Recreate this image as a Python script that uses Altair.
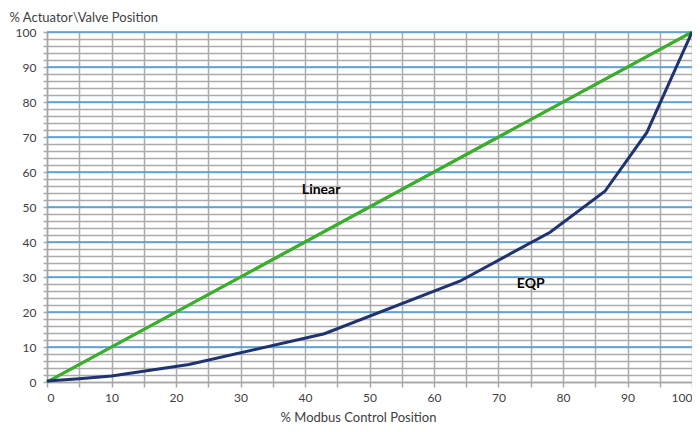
import altair as alt
import pandas as pd

# ---- data ----
eqp_x = [0, 5, 10, 22, 43, 64, 78, 86.5, 93, 100]
eqp_y = [0.3, 0.9, 1.7, 5.0, 13.8, 28.8, 42.8, 54.5, 71.3, 100]
lin_x = [0, 100]
lin_y = [0, 100]
x_ticks = list(range(0, 101, 5))
y_ticks = list(range(0, 101, 2))
major_y = list(range(10, 101, 10))
label_text = ["Linear", "EQP"]
label_x = [42.5, 75]
label_y = [55, 28]

eqp = pd.DataFrame({"x": eqp_x, "y": eqp_y})
lin = pd.DataFrame({"x": lin_x, "y": lin_y})
majors = pd.DataFrame({"y": major_y})
labels = pd.DataFrame({"t": label_text, "x": label_x, "y": label_y})

FONT = "Lato"
xs = alt.Scale(domain=[0, 100], nice=False, zero=False)
ys = alt.Scale(domain=[0, 100], nice=False, zero=False)

x_axis = alt.Axis(
    values=x_ticks, grid=True, gridColor="#ababab", gridWidth=1.5,
    tickColor="#ababab", tickSize=5, tickWidth=1.5,
    domainColor="#a6a6a6", domainWidth=1.5,
    labelExpr="datum.value % 10 == 0 ? datum.label : ''",
    labelFont=FONT, labelFontSize=12, labelColor="#404040", labelPadding=5,
    title="% Modbus Control Position", titleFont=FONT, titleFontSize=13,
    titleFontWeight="normal", titleColor="#404040",
    titleX=311, titleY=35, titleBaseline="middle", titleAlign="center",
)
y_axis = alt.Axis(
    values=y_ticks, grid=True, gridColor="#ababab", gridWidth=1.5,
    tickColor="#ababab", tickSize=4, tickWidth=1.5,
    domainColor="#a6a6a6", domainWidth=1.5,
    labelExpr="datum.value % 10 == 0 ? datum.label : ''",
    labelFont=FONT, labelFontSize=12, labelColor="#404040", labelPadding=7,
    title="% Actuator\\Valve Position", titleFont=FONT, titleFontSize=13,
    titleFontWeight="normal", titleColor="#404040", titleAngle=0,
    titleAlign="left", titleBaseline="top", titleX=-38, titleY=-21,
)

X = alt.X("x:Q", scale=xs, axis=x_axis)
Y = alt.Y("y:Q", scale=ys, axis=y_axis)

blue = alt.Chart(majors).mark_rule(color="#4a9fdc", strokeWidth=1.4).encode(y=Y)
lin_line = alt.Chart(lin).mark_line(color="#3cae2e", strokeWidth=3).encode(x=X, y=Y)
eqp_line = alt.Chart(eqp).mark_line(color="#1f3370", strokeWidth=3).encode(x=X, y=Y)
text = alt.Chart(labels).mark_text(
    font=FONT, fontSize=14, fontWeight="bold", color="#000000"
).encode(x=X, y=Y, text="t:N")

chart = alt.layer(lin_line, blue, lin_line, eqp_line, text).properties(
    width=645, height=350,
    autosize=alt.AutoSizeParams(type="none"),
    padding={"left": 39, "top": 24, "right": 0, "bottom": 42},
).configure_view(stroke=None)

chart.save("out.html", embed_options={"renderer": "svg", "actions": False})
